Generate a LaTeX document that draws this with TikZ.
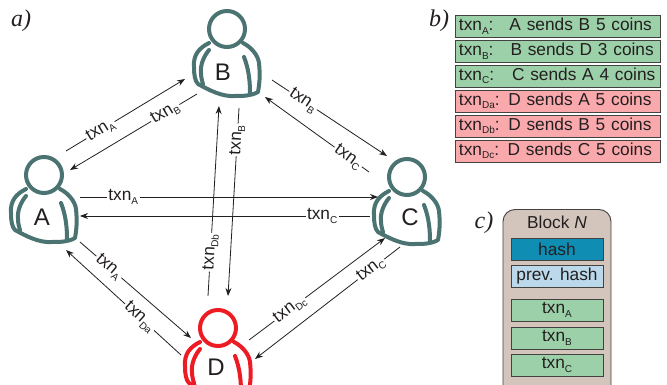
\documentclass[tikz,border=0pt]{standalone}
\usepackage{fontspec}
\setmainfont{Liberation Sans}
\newfontfamily\serifit[ItalicFont=Liberation Serif Italic]{Liberation Serif}
\usetikzlibrary{arrows.meta}
\definecolor{ink}{HTML}{231F20}
\definecolor{teal}{HTML}{4A7372}
\definecolor{redp}{HTML}{ED1C24}
\definecolor{gbox}{HTML}{9BD0A8}
\definecolor{rbox}{HTML}{F9A9AC}
\definecolor{tan}{HTML}{D3C5BC}
\definecolor{hashc}{HTML}{0F8DB3}
\definecolor{prevc}{HTML}{BBD9EA}
\newcommand{\txn}[1]{txn\raisebox{-3.5pt}{\fontsize{10}{10}\selectfont #1}}
\newcommand{\personfig}[3]{%
 \begin{scope}[shift={(#1)},line width=4pt,draw=#2,line cap=round,line join=round]
  \draw (0,0) circle (18);
  \draw (-18,14) .. controls (-28,19) and (-34,26) .. (-33,38)
     .. controls (-33,46) and (-32,52) .. (-29,55)
     .. controls (-18,61) and (-5,68) .. (8,67)
     .. controls (16,67) and (24,67) .. (31,63)
     .. controls (33,52) and (33,44) .. (32,34)
     .. controls (31,26) and (24,18) .. (16,14);
  \draw (-18,21) .. controls (-23,27) and (-27,36) .. (-26,44) .. controls (-26,48) and (-25,52) .. (-24,55);
  \draw (17,28) .. controls (20,36) and (23,46) .. (23,64);
 \end{scope}}
\tikzset{
 x=1pt,y=-1pt,
 every node/.style={text=ink,font=\fontsize{17.3}{18}\selectfont},
 conn/.style={draw=ink,line width=0.8pt,-{Stealth[length=8pt,width=6pt]}},
 lab/.style={fill=white,inner sep=1.5pt,sloped},
 who/.style={font=\fontsize{24}{25}\selectfont},
 panel/.style={font=\serifit\itshape\fontsize{24}{24}\selectfont},
 txbox/.style={draw=ink!85,line width=0.9pt,minimum height=22pt,inner xsep=4pt,inner ysep=0pt,text width=197pt,anchor=west},
 blk/.style={draw=ink!85,line width=0.9pt,minimum width=92pt,minimum height=22pt,inner sep=0pt},
}
\begin{document}
\begin{tikzpicture}
\useasboundingbox (0,0) rectangle (667,385);
\clip (0,0) rectangle (667,385);
\fill[white] (0,0) rectangle (667,385);
\personfig{44,175}{teal}{A}
\personfig{227,29}{teal}{B}
\personfig{407,177}{teal}{C}
\personfig{218,328}{redp}{D}
\node[who] (A) at (42,217) {A};
\node[who] (B) at (223,72) {B};
\node[who] (C) at (410,217) {C};
\node[who] (D) at (216,367) {D};
\coordinate (ab1) at (66,151); \coordinate (ab2) at (185,79);
\coordinate (ba1) at (197,94); \coordinate (ba2) at (70,170);
\coordinate (bc1) at (272,80); \coordinate (bc2) at (387,156);
\coordinate (cb1) at (369,172); \coordinate (cb2) at (265,97);
\coordinate (ac1) at (80,197); \coordinate (ac2) at (378,197);
\coordinate (ca1) at (370,216); \coordinate (ca2) at (80,216);
\coordinate (ad1) at (80,242); \coordinate (ad2) at (191,338);
\coordinate (da1) at (181,355); \coordinate (da2) at (66,250);
\coordinate (db1) at (208,296); \coordinate (db2) at (219,106);
\coordinate (bd1) at (239,108); \coordinate (bd2) at (228,296);
\coordinate (dc1) at (249,340); \coordinate (dc2) at (385,238);
\coordinate (cd1) at (400,247); \coordinate (cd2) at (255,359);
\draw[conn] (ab1) -- node[lab,pos=0.29] {\txn{A}} (ab2);
\draw[conn] (ba1) -- node[lab,pos=0.25] {\txn{B}} (ba2);
\draw[conn] (bc1) -- node[lab,pos=0.27] {\txn{B}} (bc2);
\draw[conn] (cb1) -- node[lab,pos=0.2] {\txn{C}} (cb2);
\draw[conn] (ac1) -- node[lab,pos=0.145] {\txn{A}} (ac2);
\draw[conn] (ca1) -- node[lab,pos=0.165] {\txn{C}} (ca2);
\draw[conn] (ad1) -- node[lab,pos=0.26] {\txn{A}} (ad2);
\draw[conn] (da1) -- node[lab,pos=0.36] {\txn{Da}} (da2);
\draw[conn] (db1) -- node[lab,pos=0.23] {\txn{Db}} (db2);
\draw[conn] (bd1) -- node[lab,pos=0.17] {\txn{B}} (bd2);
\draw[conn] (dc1) -- node[lab,pos=0.3] {\txn{Dc}} (dc2);
\draw[conn] (cd1) -- node[lab,pos=0.2] {\txn{C}} (cd2);
\node[panel] (pa) at (21,21) {a)};
\node[panel] (pb) at (439,21) {b)};
\node[panel] (pc) at (484,223) {c)};
\node[txbox,fill=gbox] (t1) at (454.5,26) {\txn{A}:\hspace{16pt}A sends B 5 coins};
\node[txbox,fill=gbox] (t2) at (454.5,51) {\txn{B}:\hspace{17pt}B sends D 3 coins};
\node[txbox,fill=gbox] (t3) at (454.5,76) {\txn{C}:\hspace{18pt}C sends A 4 coins};
\node[txbox,fill=rbox] (t4) at (454.5,101) {\txn{Da}: D sends A 5 coins};
\node[txbox,fill=rbox] (t5) at (454.5,126) {\txn{Db}: D sends B 5 coins};
\node[txbox,fill=rbox] (t6) at (454.5,151) {\txn{Dc}: D sends C 5 coins};
\draw[draw=ink!85,line width=0.9pt,fill=tan,rounded corners=12pt] (503,209.5) rectangle (611,410);
\node (bt) at (557,222) {Block \textit{N}};
\node[blk,fill=hashc] (h) at (557,249) {hash};
\node[blk,fill=prevc] (p) at (557,276) {prev. hash};
\node[blk,fill=gbox] (b1) at (557,310) {\txn{A}};
\node[blk,fill=gbox] (b2) at (557,338) {\txn{B}};
\node[blk,fill=gbox] (b3) at (557,365) {\txn{C}};
\end{tikzpicture}
\end{document}
